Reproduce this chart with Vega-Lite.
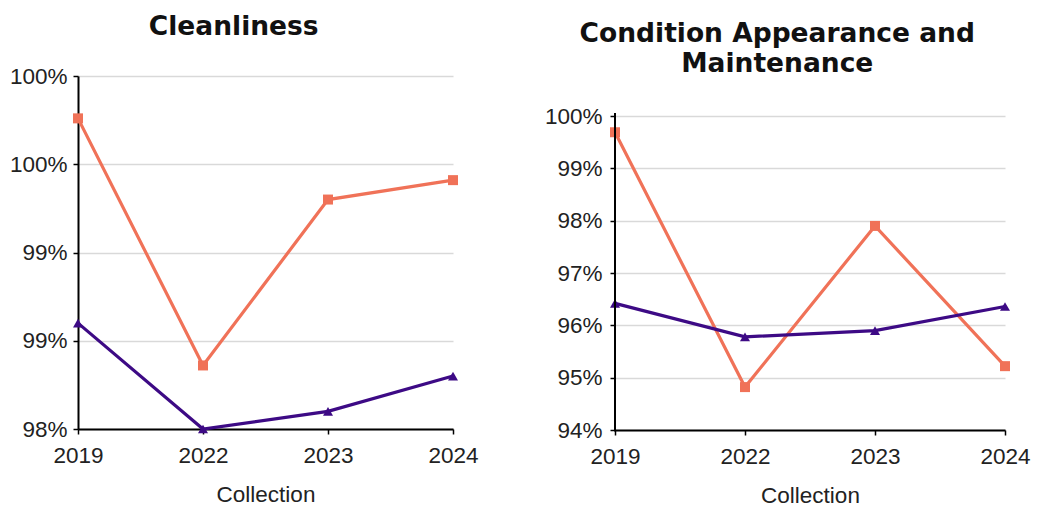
{
  "$schema": "https://vega.github.io/schema/vega-lite/v6.json",
  "background": "white",
  "padding": {"left": 9, "top": 13, "right": 5, "bottom": 5},
  "spacing": 65,
  "config": {
    "font": "Liberation Sans",
    "view": {"stroke": null},
    "axis": {
      "labelFont": "Liberation Sans",
      "labelFontSize": 22.5,
      "labelColor": "#222222",
      "domainColor": "#000000",
      "domainWidth": 2,
      "tickColor": "#000000",
      "tickWidth": 1.5,
      "tickSize": 5,
      "gridColor": "#D9D9D9",
      "gridWidth": 1.5,
      "titleFont": "Liberation Sans",
      "titleFontSize": 22.5,
      "titleFontWeight": "normal",
      "titleColor": "#222222"
    },
    "title": {"fontSize": 26.5, "fontWeight": "bold", "color": "#111111", "frame": "bounds", "anchor": "middle", "font": "DejaVu Sans", "dx": -10}
  },
  "datasets": {
    "clean": [
      {"Collection": "2019", "Series": "Series 1", "Value": 99.76},
      {"Collection": "2022", "Series": "Series 1", "Value": 98.36},
      {"Collection": "2023", "Series": "Series 1", "Value": 99.30},
      {"Collection": "2024", "Series": "Series 1", "Value": 99.41},
      {"Collection": "2019", "Series": "Series 2", "Value": 98.60},
      {"Collection": "2022", "Series": "Series 2", "Value": 98.00},
      {"Collection": "2023", "Series": "Series 2", "Value": 98.10},
      {"Collection": "2024", "Series": "Series 2", "Value": 98.30}
    ],
    "cam": [
      {"Collection": "2019", "Series": "Series 1", "Value": 99.69},
      {"Collection": "2022", "Series": "Series 1", "Value": 94.82},
      {"Collection": "2023", "Series": "Series 1", "Value": 97.90},
      {"Collection": "2024", "Series": "Series 1", "Value": 95.22},
      {"Collection": "2019", "Series": "Series 2", "Value": 96.42},
      {"Collection": "2022", "Series": "Series 2", "Value": 95.78},
      {"Collection": "2023", "Series": "Series 2", "Value": 95.90},
      {"Collection": "2024", "Series": "Series 2", "Value": 96.36}
    ]
  },
  "hconcat": [
    {
      "title": {"text": "Cleanliness", "offset": 25},
      "width": 375,
      "height": 353,
      "data": {"name": "clean"},
      "encoding": {
        "x": {"field": "Collection", "type": "ordinal", "scale": {"type": "point", "padding": 0}, "axis": {"labelAngle": 0, "grid": false, "title": "Collection", "labelPadding": 10, "titlePadding": 17}},
        "y": {"field": "Value", "type": "quantitative", "scale": {"domain": [98, 100], "zero": false}, "axis": {"values": [98, 98.5, 99, 99.5, 100], "labelExpr": "round(datum.value) + '%'", "title": null, "labelPadding": 6}},
        "color": {"field": "Series", "type": "nominal", "scale": {"domain": ["Series 1", "Series 2"], "range": ["#F07258", "#3D0A85"]}, "legend": null}
      },
      "layer": [
        {"mark": {"type": "line", "strokeWidth": 3.2}},
        {"mark": {"type": "point", "filled": true, "size": 100, "opacity": 1}, "encoding": {"shape": {"field": "Series", "type": "nominal", "scale": {"domain": ["Series 1", "Series 2"], "range": ["square", "triangle-up"]}, "legend": null}}}
      ]
    },
    {
      "title": {"text": ["Condition Appearance and", "Maintenance"], "offset": -1, "lineHeight": 30},
      "width": 390,
      "height": 354,
      "layer": [
        {
          "data": {"name": "cam"},
          "mark": {"type": "line", "strokeWidth": 3.2},
          "encoding": {
            "x": {"field": "Collection", "type": "ordinal", "scale": {"type": "point", "padding": 0}, "axis": {"labelAngle": 0, "grid": false, "title": "Collection", "labelPadding": 10, "titlePadding": 17}},
            "y": {"field": "Value", "type": "quantitative", "scale": {"domain": [94, 100.765], "zero": false, "nice": false}, "axis": {"values": [94, 95, 96, 97, 98, 99, 100], "labelExpr": "round(datum.value) + '%'", "title": null, "labelPadding": 8, "domain": false}},
            "color": {"field": "Series", "type": "nominal", "scale": {"domain": ["Series 1", "Series 2"], "range": ["#F07258", "#3D0A85"]}, "legend": null}
          }
        },
        {
          "data": {"name": "cam"},
          "mark": {"type": "point", "filled": true, "size": 100, "opacity": 1},
          "encoding": {
            "x": {"field": "Collection", "type": "ordinal"},
            "y": {"field": "Value", "type": "quantitative"},
            "color": {"field": "Series", "type": "nominal", "legend": null},
            "shape": {"field": "Series", "type": "nominal", "scale": {"domain": ["Series 1", "Series 2"], "range": ["square", "triangle-up"]}, "legend": null}
          }
        },
        {
          "data": {"values": [{}]},
          "mark": {"type": "rule", "color": "#000000", "strokeWidth": 2},
          "encoding": {
            "x": {"datum": "2019", "type": "ordinal"},
            "y": {"datum": 93.97, "type": "quantitative"},
            "y2": {"datum": 100.06}
          }
        }
      ]
    }
  ]
}
